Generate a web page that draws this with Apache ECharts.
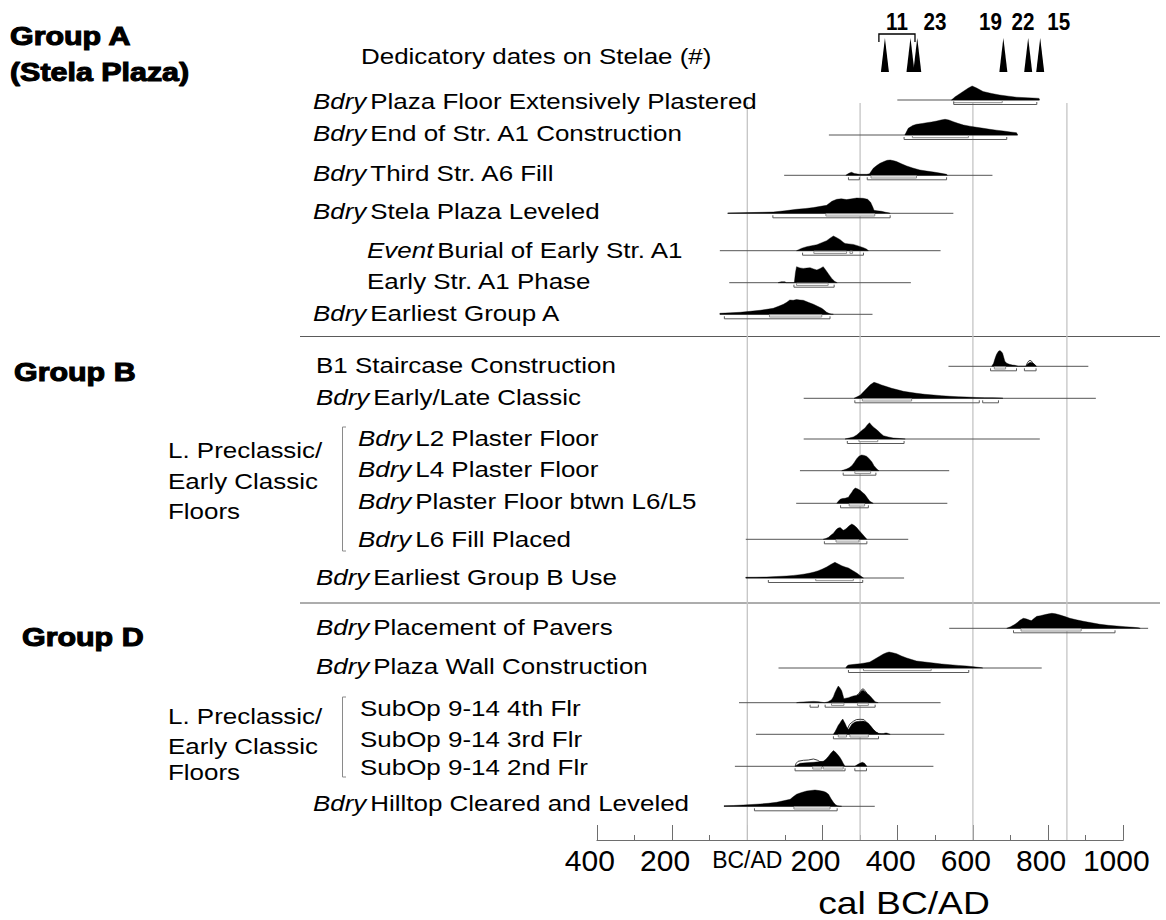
<!DOCTYPE html>
<html>
<head>
<meta charset="utf-8">
<script src="https://cdn.jsdelivr.net/npm/echarts@6/dist/echarts.min.js"></script>
<style>
  html, body { margin: 0; padding: 0; background: #fff; }
  #chart { width: 1166px; height: 920px; }
</style>
</head>
<body>
<div id="chart"></div>
<script>
// ---------------- data ----------------
// Row titles: [italic qualifier, name]
const rowNames = [
  ['Bdry', 'Plaza Floor Extensively Plastered'],
  ['Bdry', 'End of Str. A1 Construction'],
  ['Bdry', 'Third Str. A6 Fill'],
  ['Bdry', 'Stela Plaza Leveled'],
  ['Event', 'Burial of Early Str. A1'],
  ['', 'Early Str. A1 Phase'],
  ['Bdry', 'Earliest Group A'],
  ['', 'B1 Staircase Construction'],
  ['Bdry', 'Early/Late Classic'],
  ['Bdry', 'L2 Plaster Floor'],
  ['Bdry', 'L4 Plaster Floor'],
  ['Bdry', 'Plaster Floor btwn L6/L5'],
  ['Bdry', 'L6 Fill Placed'],
  ['Bdry', 'Earliest Group B Use'],
  ['Bdry', 'Placement of Pavers'],
  ['Bdry', 'Plaza Wall Construction'],
  ['', 'SubOp 9-14 4th Flr'],
  ['', 'SubOp 9-14 3rd Flr'],
  ['', 'SubOp 9-14 2nd Flr'],
  ['Bdry', 'Hilltop Cleared and Leveled']
];

// Extent of the plotted range for each row (cal BC/AD, BC negative)
const priorRanges = [
  [399, 777], [217, 719], [98, 652], [-52, 548], [-73, 514], [-48, 435], [-73, 333],
  [535, 907], [150, 927], [150, 778], [140, 537], [130, 532], [-4, 428], [-4, 417],
  [537, 1066], [83, 783], [-22, 514], [23, 524], [-33, 495], [-62, 339]
];

// Posterior (modelled) distributions: [year, relative probability]
const densities = [
  [[543,0],[552,3],[570,7.5],[588,12],[598,14],[610,12],[627,8.5],[650,6.5],[671,5],[695,3.8],[716,2.8],[745,2.2],[770,1.8],[776,1.6],[777,0]],
  [[419,0],[428,6.7],[440,9.5],[450,10.7],[465,11.5],[477,12.3],[490,13],[504,14],[515,15],[526,15.7],[536,15],[548,13.3],[560,11.7],[575,10],[592,8.8],[610,7.7],[628,6.7],[645,5.7],[663,4.8],[681,4],[700,3],[716,2.3],[719,0]],
  [[262,0],[270,2],[277,3],[285,1.8],[298,1],[318,1],[325,1.5],[335,7],[345,10],[353,12],[365,14],[372,15],[380,15.3],[390,14.5],[397,13.7],[410,11.5],[424,9.3],[440,7.3],[459,5.3],[477,4.2],[495,3.3],[512,2.2],[530,1],[532,0]],
  [[-52,0.3],[-20,0.5],[7,0.7],[40,1],[69,1.3],[100,2.5],[131,4],[155,4.8],[176,5.7],[195,7],[211,8],[225,12],[238,14],[250,14.5],[264,13.7],[278,14.5],[291,15.3],[308,15],[320,14],[328,11],[334,6],[337,3],[345,2.5],[357,2],[368,1],[375,0.5],[380,0]],
  [[131,0],[145,2.5],[158,4],[171,5],[185,6],[198,8],[211,10],[220,12.5],[229,14.7],[238,13],[247,11],[255,8.5],[260,7.3],[270,6.8],[282,6.3],[295,4.8],[309,3],[318,1.5],[322,0]],
  [[82,0],[90,1],[100,1],[104,0],[125,0],[128,10],[131,16],[140,14.8],[149,14.3],[158,14.6],[167,15],[176,13.8],[185,12.7],[194,14.2],[202,16],[208,13],[215,9.3],[224,4.5],[232,1.5],[239,0]],
  [[-73,1],[-45,1.5],[-19,2],[8,3],[34,4],[52,5],[69,6],[83,8],[96,10],[105,12],[113,14.3],[122,14],[131,14.7],[140,14.3],[149,14],[162,12],[176,10],[187,8],[198,6],[205,4],[211,2],[220,0.5],[229,0]],
  [[650,0],[655,3],[659,8],[663,12],[668,15],[672,15.7],[676,14.5],[679,13],[682,9],[685,5],[690,3],[697,2],[705,1.3],[712,1],[721,0],[741,0],[746,2.5],[752,4],[758,3.5],[764,2],[769,0]],
  [[284,0],[292,1.5],[300,3],[309,6.5],[318,10],[327,13.5],[337,16],[347,14.8],[357,13.3],[370,11.7],[384,10],[400,8.5],[415,7],[432,6],[450,5],[472,4],[495,3.3],[517,2.6],[539,2],[561,1.6],[583,1.3],[610,0.8],[632,0.6],[654,0.5],[677,0.3],[680,0]],
  [[260,0],[271,1],[282,2],[291,4],[300,7],[306,9],[313,11],[319,14],[325,16.3],[330,14],[335,12],[342,10],[349,7.7],[355,5.5],[362,3.3],[375,2],[388,1],[405,0.5],[420,0]],
  [[251,0],[258,1],[264,1.7],[271,3],[278,5],[284,8],[291,12],[297,14.5],[304,15.7],[311,15.3],[318,14.3],[324,12],[331,9],[337,5],[344,2],[350,0]],
  [[238,0],[242,2],[247,4],[253,4.8],[260,5],[264,5.5],[269,6],[273,8.5],[278,11],[282,13.5],[287,15.3],[293,14.5],[300,13],[306,11],[313,8.7],[320,5],[326,2],[335,0]],
  [[202,0],[209,0.8],[216,2],[222,4],[229,6],[233,8],[238,10.3],[242,11.2],[247,11.7],[251,10.5],[255,9],[260,9.8],[264,11],[271,13.5],[278,15.3],[284,14],[291,11.7],[298,8.5],[304,6],[311,3],[318,0]],
  [[-4,0.7],[24,0.8],[52,1],[78,1.5],[105,2],[123,2.6],[140,3.3],[153,4],[167,5],[178,6],[189,7.3],[200,9],[211,11],[222,13.5],[233,15.7],[242,14],[251,12.3],[260,11],[269,10],[280,7.5],[291,5],[300,2.5],[309,0]],
  [[690,0],[700,1.5],[712,4],[719,6],[725,8],[734,10],[741,9.5],[747,8.7],[752,8],[756,7.7],[763,10],[770,12],[779,12.5],[787,13.3],[798,14.2],[810,15],[820,14.5],[832,13.3],[845,11.7],[858,10],[875,8.5],[894,7],[916,5.5],[938,4],[960,3],[982,2.3],[1005,1.6],[1027,1],[1040,0.5],[1045,0]],
  [[262,0],[265,2],[269,3],[285,3.7],[300,4.3],[313,5],[326,6],[335,8],[344,10],[353,12],[362,14],[370,15.3],[377,16],[387,15.2],[397,14.3],[410,12],[424,10],[437,8.5],[450,7],[472,6],[495,5],[517,4],[539,3.3],[561,2.6],[583,2],[603,1.2],[623,0.3],[626,0]],
  [[131,0],[140,0.5],[160,1],[176,1.3],[190,1],[197,0.5],[205,0],[215,1],[224,3],[229,6],[233,10],[238,14],[242,16.7],[246,15],[251,12],[254,8],[257,4],[262,4.5],[269,5],[276,6],[282,6.7],[289,7.3],[295,8],[300,10],[304,12],[309,12.5],[313,11],[320,9],[326,7],[333,4],[340,1],[348,0]],
  [[229,0],[234,3],[238,6],[242,9],[246,11],[250,13.5],[254,15.3],[257,13],[260,11],[264,7.5],[269,4.7],[273,7],[278,10],[285,12],[291,12.7],[300,13],[309,13.3],[315,12.5],[322,11],[329,8],[335,5],[342,2.5],[349,1],[356,0.7],[362,0.7],[367,1.3],[371,1.3],[376,0.5],[380,0]],
  [[127,0],[133,1.5],[140,3],[155,3.5],[176,4],[190,4.5],[202,5],[209,7],[216,10],[222,13],[229,15.7],[235,14],[242,11],[247,8.5],[251,6],[255,3],[260,0],[286,0],[292,1.5],[299,3],[306,4],[312,3],[318,0]],
  [[-62,0.5],[-37,0.8],[-11,1.3],[12,1.8],[34,2.3],[56,3],[78,4],[96,5.5],[114,7],[122,9.5],[131,12],[144,13.8],[158,15.3],[169,15.8],[180,16.3],[191,15.7],[202,15],[209,14],[216,12],[222,8],[229,4],[235,1.5],[240,0.5],[251,0]]
];

// Unmodelled likelihoods drawn in outline (null where not shown)
const likelihoods = [
  null, null, null, null, null, null, null,
  [[741,0],[745,3.5],[749,5.5],[752,5.8],[755,5.5],[759,3.5],[764,1.5],[767,0]],
  null, null, null, null, null, null, null, null,
  [[292,7.5],[297,9.5],[301,11.5],[305,13.5],[309,13.8],[313,12],[318,9.5]],
  [[266,5],[272,10],[282,13],[290,14.7],[300,15],[310,14.8],[316,12.5],[322,10],[329,7],[336,4],[342,2],[349,0.8]],
  [[127,0],[130,3],[135,5],[149,6],[162,6.3],[176,7.3],[186,6.2],[193,4.7],[200,4.3],[204,4.5]],
  null
];

// Highest posterior density ranges, 68.2% and 95.4%
const hpd68 = [
  [[549,678]], [[439,588]], [[329,450]], [[209,339]], [[177,264],[273,280]], [[131,215]], [[59,198]],
  [[657,687]], [[306,437]], [[297,347]], [[286,328]], [[271,312]], [[236,297]], [[182,282]],
  [[728,888]], [[309,489]], [[224,257],[293,322]], [[242,264],[273,322]], [[174,198],[202,255]], [[124,220]]
];
const hpd95 = [
  [[549,770]], [[417,690]], [[269,298],[319,530]], [[68,380]], [[147,309]], [[124,231]], [[-61,220]],
  [[647,716],[737,768]], [[286,617],[626,668]], [[266,417]], [[255,342]], [[248,322]], [[205,318]], [[56,307]],
  [[708,978]], [[269,589]], [[167,189],[207,340]], [[229,349]], [[127,260],[286,317]], [[19,239]]
];

// Dedicatory dates on stelae (AD) and their stela numbers
const stelaDates = [366, 434, 452, 681, 747, 779];
const stelaNumbers = ['11', '23', '19', '22', '15'];
const stelaNumberYears = [398, 499, 647, 733, 828];
const stela11Span = [350, 446];

// Reference lines (AD)
const referenceYears = [0, 300, 600, 850];

// Axis
const axisMin = -400, axisMax = 1000, axisStep = 200;

// ---------------- layout ----------------
// vertical track (baseline) of each row and its label
const rowTrack = [100,135,175.3,213.3,250.7,282.7,314.3, 366.3,398.3,439,470.7,503.3,539.3,578, 628.3,668,702.7,734.3,766.3,806.3];
const labelTrack = [101,133,173,211,250,281,313, 365,397,438,469,501,539,577, 627,666,708,739,767,803];
const labelLeft = [313,313,313,313,367,367,313, 316,316,358,358,358,358,316, 316,316,360,360,360,313];

const FONT = '"Liberation Sans", Arial, Helvetica, sans-serif';
const NARROW = '"Liberation Sans Narrow", "Arial Narrow", ' + FONT;
const FS = 22;           // lettering size
const SX = 1.18;         // horizontal stretch of the lettering
const DENS_PX = 1;       // pixels per unit of relative probability

const chart = echarts.init(document.getElementById('chart'), null, { renderer: 'svg' });

function rowLabel(i) {
  const [q, name] = rowNames[i];
  return q ? '{i|' + q + '} {n|' + name + '}' : '{n|' + name + '}';
}

function renderRow(params, api) {
  const i = params.dataIndex;
  const base = rowTrack[i];
  const at = (yr, h) => {
    const p = api.coord([yr, base]);
    return [p[0], p[1] - (h || 0) * DENS_PX];
  };
  const kids = [];
  // plotted range
  const a = at(priorRanges[i][0]), b = at(priorRanges[i][1]);
  kids.push({ type: 'line', shape: { x1: a[0], y1: a[1], x2: b[0], y2: b[1] },
    style: { stroke: '#555', lineWidth: 1 } });
  // likelihood outline
  const lk = likelihoods[i];
  if (lk) {
    kids.push({ type: 'polyline', shape: { points: lk.map(([y, h]) => at(y, h)) },
      style: { stroke: '#3a3a3a', lineWidth: 1, fill: null } });
  }
  // posterior fill
  const d = densities[i];
  const pts = [at(d[0][0], 0)].concat(d.map(([y, h]) => at(y, h)), [at(d[d.length - 1][0], 0)]);
  kids.push({ type: 'polygon', shape: { points: pts }, style: { fill: '#000', stroke: '#000', lineWidth: 0.4 } });
  // 68.2% range: hollow bar
  hpd68[i].forEach(([s, e]) => {
    const p = at(s), q = at(e);
    kids.push({ type: 'rect', shape: { x: p[0], y: p[1] + 0.5, width: q[0] - p[0], height: 2.2 },
      style: { fill: '#fff', stroke: '#8c8c8c', lineWidth: 1 } });
  });
  // 95.4% range: bracket
  hpd95[i].forEach(([s, e]) => {
    const p = at(s), q = at(e);
    const yb = p[1] + 4.5;
    kids.push({ type: 'polyline', shape: { points: [[p[0], yb - 2.5], [p[0], yb], [q[0], yb], [q[0], yb - 2.5]] },
      style: { stroke: '#5a5a5a', lineWidth: 1, fill: null } });
  });
  // label
  kids.push({
    type: 'text', x: labelLeft[i], y: labelTrack[i], scaleX: SX,
    style: {
      text: rowLabel(i), align: 'left', verticalAlign: 'middle',
      rich: {
        i: { fontFamily: FONT, fontSize: FS, fontStyle: 'italic', fill: '#000' },
        n: { fontFamily: FONT, fontSize: FS, fill: '#000' }
      }
    }
  });
  return { type: 'group', children: kids };
}

function renderGridLine(params, api) {
  const yr = referenceYears[params.dataIndex];
  const p = api.coord([yr, 103]), q = api.coord([yr, 840]);
  return { type: 'line', shape: { x1: p[0], y1: p[1], x2: q[0], y2: q[1] },
    style: { stroke: '#c4c4c4', lineWidth: 1.3 } };
}

function renderStela(params, api) {
  const yr = stelaDates[params.dataIndex];
  const top = api.coord([yr, 38]), bot = api.coord([yr, 72]);
  return { type: 'polygon', shape: { points: [[top[0], top[1]], [bot[0] - 4, bot[1]], [bot[0] + 4, bot[1]]] },
    style: { fill: '#000' } };
}

function renderStelaNumber(params, api) {
  const i = params.dataIndex;
  const p = api.coord([stelaNumberYears[i], 22]);
  return { type: 'text', x: p[0], y: p[1], scaleX: 0.86,
    style: { text: stelaNumbers[i], align: 'center', verticalAlign: 'middle',
      font: 'bold 24px ' + FONT, fill: '#000' } };
}

function renderStelaBracket(params, api) {
  const p = api.coord([stela11Span[0], 34]), q = api.coord([stela11Span[1], 34]);
  return { type: 'polyline', shape: { points: [[p[0], p[1] + 8], [p[0], p[1]], [q[0], q[1]], [q[0], q[1] + 8]] },
    style: { stroke: '#000', lineWidth: 1.3, fill: null } };
}

function txt(x, y, text, font, sx, extra) {
  return Object.assign({ type: 'text', x: x, y: y, scaleX: sx,
    style: Object.assign({ text: text, font: font, fill: '#000', align: 'left', verticalAlign: 'middle' }, extra || {}) });
}

const heavy = 'bold 26px ' + FONT;
const heavyStroke = { stroke: '#000', lineWidth: 1.1 };
const plain = FS + 'px ' + FONT;

const option = {
  backgroundColor: '#fff',
  animation: false,
  grid: { left: 596.9, right: 42.7, top: 103, bottom: 80, containLabel: false, outerBoundsMode: 'none' },
  xAxis: {
    type: 'value', min: axisMin, max: axisMax, interval: axisStep,
    axisLine: { show: true, lineStyle: { color: '#6e6e6e', width: 1 } },
    axisTick: { show: true, inside: true, length: 15, lineStyle: { color: '#6e6e6e' } },
    minorTick: { show: true, splitNumber: 2, length: 5, lineStyle: { color: '#6e6e6e' } },
    splitLine: { show: false },
    axisLabel: {
      margin: 4,
      formatter: v => v === 0 ? '{bc|BC/AD}' : '{n|' + Math.abs(v) + '}',
      rich: {
        n: { fontFamily: NARROW, fontSize: 30, lineHeight: 32, color: '#000', padding: [0, 14, 0, 0] },
        bc: { fontFamily: NARROW, fontSize: 23, lineHeight: 32, color: '#000' }
      }
    }
  },
  yAxis: { type: 'value', min: 103, max: 840, inverse: true, show: false },
  graphic: [
    txt(10, 36, 'Group A', heavy, 1.17, heavyStroke),
    txt(10, 72, '(Stela Plaza)', heavy, 1.17, heavyStroke),
    txt(14, 372, 'Group B', heavy, 1.17, heavyStroke),
    txt(22, 637, 'Group D', heavy, 1.17, heavyStroke),
    txt(361, 56, 'Dedicatory dates on Stelae (#)', plain, SX),
    txt(168, 450, 'L. Preclassic/', plain, SX),
    txt(168, 481, 'Early Classic', plain, SX),
    txt(168, 511, 'Floors', plain, SX),
    txt(168, 716, 'L. Preclassic/', plain, SX),
    txt(168, 746, 'Early Classic', plain, SX),
    txt(168, 772, 'Floors', plain, SX),
    { type: 'polyline', shape: { points: [[346, 427], [342.5, 427], [342.5, 551], [346, 551]] },
      style: { stroke: '#8a8a8a', lineWidth: 1, fill: null } },
    { type: 'polyline', shape: { points: [[346, 697], [342.5, 697], [342.5, 777], [346, 777]] },
      style: { stroke: '#8a8a8a', lineWidth: 1, fill: null } },
    { type: 'line', shape: { x1: 300, y1: 336.5, x2: 1160, y2: 336.5 }, style: { stroke: '#5a5a5a', lineWidth: 1 } },
    { type: 'line', shape: { x1: 300, y1: 603, x2: 1160, y2: 603 }, style: { stroke: '#5a5a5a', lineWidth: 1 } },
    txt(904, 903, 'cal BC/AD', '31px ' + FONT, 1.2, { align: 'center' })
  ],
  series: [
    { type: 'custom', z: 1, clip: false, silent: true, renderItem: renderGridLine,
      data: referenceYears.map(y => [y]) },
    { type: 'custom', z: 3, clip: false, silent: true, renderItem: renderRow,
      data: rowNames.map((r, i) => [priorRanges[i][0], rowTrack[i]]) },
    { type: 'custom', z: 3, clip: false, silent: true, renderItem: renderStela,
      data: stelaDates.map(y => [y]) },
    { type: 'custom', z: 3, clip: false, silent: true, renderItem: renderStelaNumber,
      data: stelaNumberYears.map(y => [y]) },
    { type: 'custom', z: 3, clip: false, silent: true, renderItem: renderStelaBracket,
      data: [stela11Span] }
  ]
};

chart.setOption(option);
</script>
</body>
</html>
